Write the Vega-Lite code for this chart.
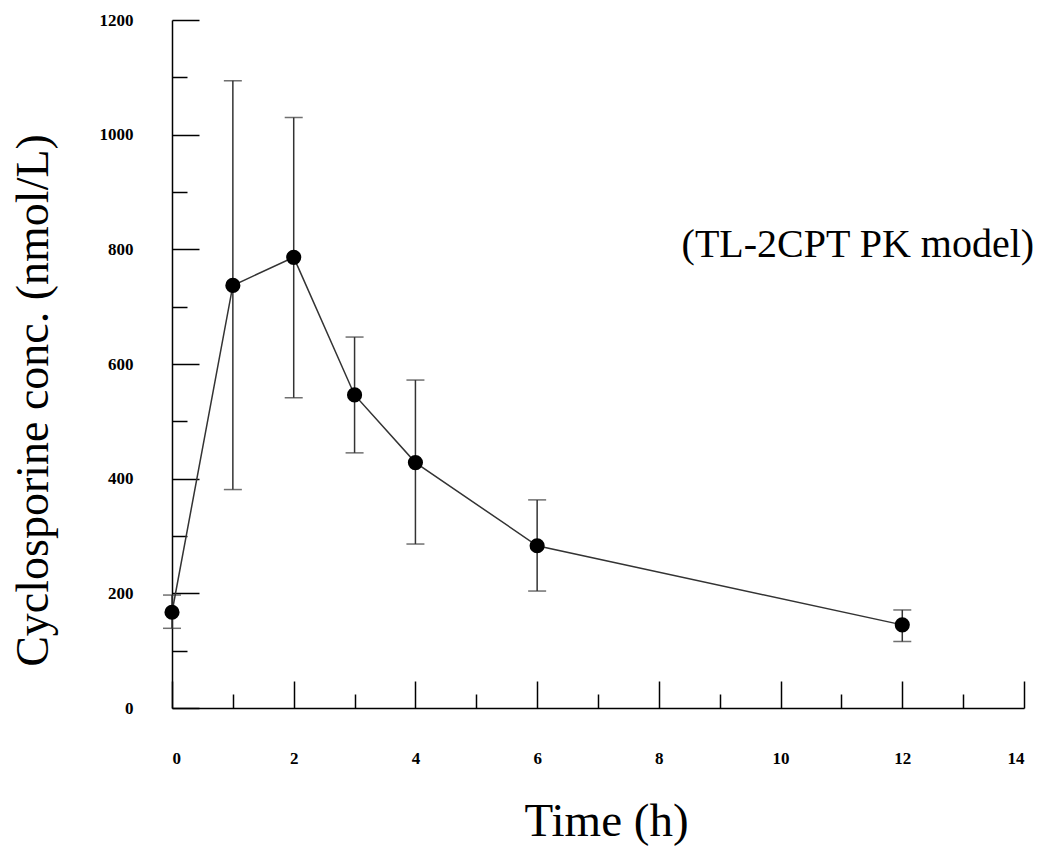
{
  "$schema": "https://vega.github.io/schema/vega-lite/v6.json",
  "width": 852,
  "height": 688,
  "autosize": "none",
  "padding": {"left": 172, "top": 20, "right": 13, "bottom": 141},
  "background": "white",
  "config": {
    "view": {"stroke": null},
    "axis": {
      "grid": false,
      "domainColor": "black",
      "domainWidth": 1.5,
      "tickColor": "black",
      "tickWidth": 1.5,
      "labelFont": "Liberation Serif",
      "labelFontWeight": "bold",
      "labelFontSize": 17,
      "labelColor": "black",
      "titleFont": "Liberation Serif",
      "titleFontWeight": "normal",
      "titleColor": "black",
      "labelOverlap": false
    }
  },
  "datasets": {
    "pk": [
      {"time": 0, "conc": 167, "lo": 139, "hi": 197},
      {"time": 1, "conc": 737, "lo": 381, "hi": 1094},
      {"time": 2, "conc": 786, "lo": 541, "hi": 1030},
      {"time": 3, "conc": 546, "lo": 445, "hi": 647},
      {"time": 4, "conc": 428, "lo": 286, "hi": 572},
      {"time": 6, "conc": 283, "lo": 204, "hi": 363},
      {"time": 12, "conc": 145, "lo": 116, "hi": 171}
    ],
    "note": [
      {"tx": 11.27, "ty": 787, "label": "(TL-2CPT PK model)"}
    ]
  },
  "layer": [
    {
      "data": {"name": "pk"},
      "mark": {"type": "errorbar", "ticks": {"size": 18, "color": "#333", "thickness": 1.5}, "rule": {"color": "#333", "strokeWidth": 1.5}},
      "encoding": {
        "x": {
          "field": "time", "type": "quantitative",
          "scale": {"domain": [0, 14], "nice": false, "zero": false},
          "axis": {
            "title": "Time (h)",
            "titleFontSize": 47,
            "titleBaseline": "alphabetic",
            "titleX": 434,
            "titleY": 127,
            "format": "d",
            "values": [0,1,2,3,4,5,6,7,8,9,10,11,12,13,14],
            "tickSize": {"condition": {"test": "datum.value % 2 === 0", "value": -27}, "value": -14},
            "labelExpr": "datum.value % 2 === 0 ? datum.label : ''",
            "labelPadding": 69
          }
        },
        "y": {
          "field": "lo", "type": "quantitative",
          "scale": {"domain": [0, 1200], "nice": false},
          "axis": {
            "title": "Cyclosporine conc. (nmol/L)",
            "titleFontSize": 46,
            "titleBaseline": "alphabetic",
            "titleX": -125,
            "titleY": 380,
            "format": "d",
            "values": [0,50,100,150,200,250,300,350,400,450,500,550,600,650,700,750,800,850,900,950,1000,1050,1100,1150,1200],
            "tickSize": {"condition": {"test": "datum.value % 200 === 0", "value": -27}, "value": -15},
            "labelExpr": "datum.value % 200 === 0 ? datum.label : ''",
            "labelPadding": 66
          }
        },
        "y2": {"field": "hi"}
      }
    },
    {
      "data": {"name": "pk"},
      "mark": {"type": "line", "color": "#333", "strokeWidth": 1.5},
      "encoding": {
        "x": {"field": "time", "type": "quantitative"},
        "y": {"field": "conc", "type": "quantitative"}
      }
    },
    {
      "data": {"name": "pk"},
      "mark": {"type": "point", "filled": true, "color": "black", "opacity": 1, "size": 230},
      "encoding": {
        "x": {"field": "time", "type": "quantitative"},
        "y": {"field": "conc", "type": "quantitative"}
      }
    },
    {
      "data": {"name": "note"},
      "mark": {"type": "text", "font": "Liberation Serif", "fontSize": 40, "color": "black", "align": "center", "baseline": "alphabetic"},
      "encoding": {
        "x": {"field": "tx", "type": "quantitative"},
        "y": {"field": "ty", "type": "quantitative"},
        "text": {"field": "label"}
      }
    }
  ]
}
